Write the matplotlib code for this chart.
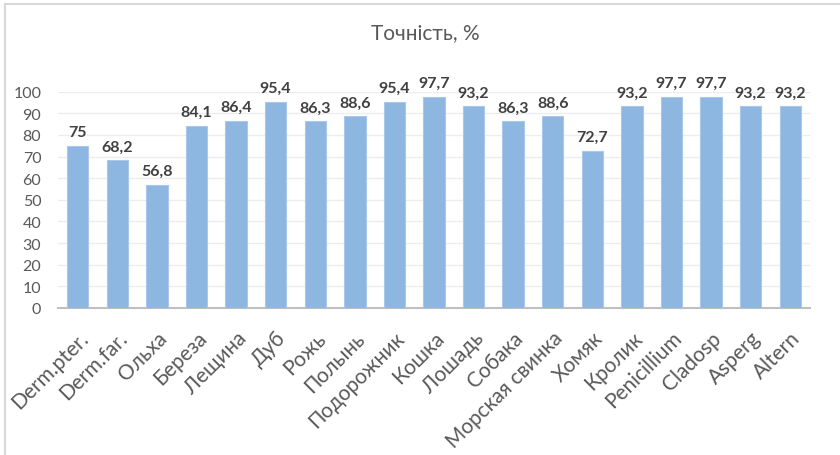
import matplotlib
matplotlib.use("Agg")
import matplotlib.pyplot as plt
from matplotlib.lines import Line2D

categories = ["Derm.pter.", "Derm.far.", "Ольха", "Береза", "Лещина", "Дуб", "Рожь",
              "Полынь", "Подорожник", "Кошка", "Лошадь", "Собака", "Морская свинка",
              "Хомяк", "Кролик", "Penicillium", "Cladosp", "Asperg", "Altern"]
values = [75, 68.2, 56.8, 84.1, 86.4, 95.4, 86.3, 88.6, 95.4, 97.7, 93.2, 86.3, 88.6,
          72.7, 93.2, 97.7, 97.7, 93.2, 93.2]
labels = ["75", "68,2", "56,8", "84,1", "86,4", "95,4", "86,3", "88,6", "95,4", "97,7",
          "93,2", "86,3", "88,6", "72,7", "93,2", "97,7", "97,7", "93,2", "93,2"]
title = "Точність, %"

plt.rcParams['font.family'] = ['Lato', 'Open Sans', 'DejaVu Sans']

fig = plt.figure(figsize=(8.4, 4.56), dpi=100)
ax = fig.add_axes([58/840, 1-309/456, (810-58)/840, (309-92.7)/456])

x = range(len(categories))
ax.bar(x, values, width=0.54, color="#8DB6E1", edgecolor="#A9C8EC", linewidth=0.8, zorder=3)

for xi, v, lab in zip(x, values, labels):
    ax.annotate(lab, (xi, v), xytext=(0, 5), textcoords="offset points",
                ha="center", va="bottom", fontsize=11.5, fontweight="bold", color="#404040")

ax.set_xlim(-0.5, len(categories) - 0.5)
ax.set_ylim(0, 100)
ax.set_yticks(range(0, 101, 10))
ax.yaxis.grid(True, color="#EDEDED", linewidth=1, zorder=0)
ax.set_axisbelow(True)
for s in ["top", "right", "left"]:
    ax.spines[s].set_visible(False)
ax.spines["bottom"].set_color("#BFBFBF")
ax.spines["bottom"].set_linewidth(1.5)
ax.tick_params(axis="y", length=0, labelsize=11.5, labelcolor="#595959", pad=12)
ax.tick_params(axis="x", length=0, labelsize=15, labelcolor="#595959", pad=14)
ax.set_xticks(list(x))
ax.set_xticklabels(categories, rotation=45, ha="right", rotation_mode="anchor")

fig.text(425/840, 1-33/456, title, ha="center", va="center", fontsize=15, color="#595959")

# chart frame
fig.add_artist(Line2D([4.5/840, 4.5/840], [1-5/456, 1-455/456], transform=fig.transFigure,
                      color="#D9D9D9", linewidth=1.5))
fig.add_artist(Line2D([4.5/840, 1.0], [1-5/456, 1-5/456], transform=fig.transFigure,
                      color="#D9D9D9", linewidth=1.5))

fig.savefig("out.png", dpi=100)
